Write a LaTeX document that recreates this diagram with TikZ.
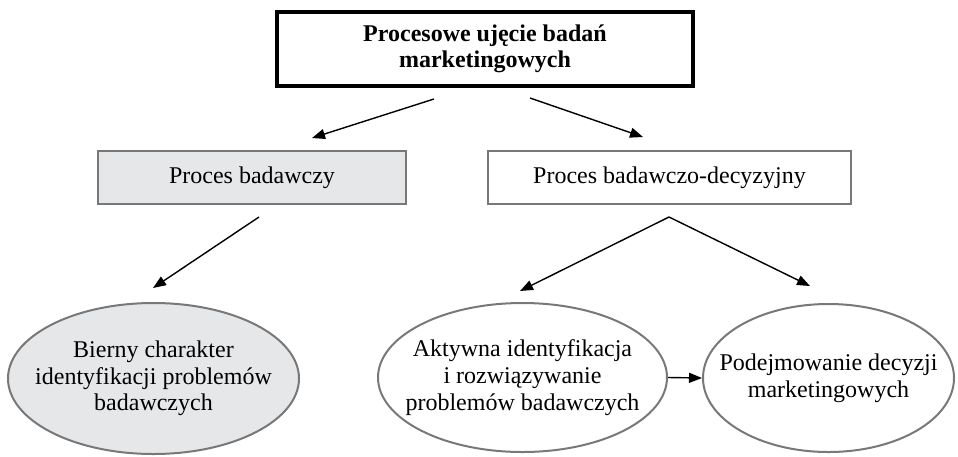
\documentclass[tikz,border=0pt]{standalone}
\usepackage{fontspec}
\setmainfont{Liberation Serif}
\usetikzlibrary{shapes.geometric,arrows.meta,calc}
\definecolor{panelgray}{HTML}{E6E7E8}
\definecolor{edgegray}{HTML}{787878}
\begin{document}
\begin{tikzpicture}[x=1pt,y=-1pt,
  txt/.style={font=\fontsize{24}{26.7}\selectfont, align=center, inner sep=0pt},
  titlebox/.style={draw=black, line width=4pt, fill=white, align=center, inner sep=0pt,
    minimum width=416pt, minimum height=74pt,
    font=\bfseries\fontsize{24}{25.5}\selectfont},
  procbox/.style={txt, rectangle, draw=edgegray, line width=2pt, minimum height=53pt},
  % empty ellipse, so its size is set only by minimum width/height
  ovalbox/.style={ellipse, draw=edgegray, line width=2pt, inner sep=0pt},
  arr/.style={draw=black, line width=1.4pt, -{Triangle[length=13pt,width=10pt]}}
]
\useasboundingbox (0,0) rectangle (958,456);

% top: the overall view
\node[titlebox] (title) at (485,49) {Procesowe ujęcie badań\\marketingowych};

% the two kinds of process
\node[procbox, fill=panelgray, minimum width=308pt] (research) at (252,177.5) {Proces badawczy};
\node[procbox, fill=white, minimum width=363pt] (decision) at (669.5,177.5) {Proces badawczo-decyzyjny};

% their consequences
\node[ovalbox, fill=panelgray, minimum width=291pt, minimum height=151pt] (passive) at (153.5,378.5) {};
\node[txt] (passive-text) at (passive.center) {Bierny charakter\\identyfikacji problemów\\badawczych};
\node[ovalbox, fill=white, minimum width=289pt, minimum height=149pt] (active) at (522.5,377.5) {};
\node[txt] (active-text) at (active.center) {Aktywna identyfikacja\\i rozwiązywanie\\problemów badawczych};
\node[ovalbox, fill=white, minimum width=251pt, minimum height=148pt] (choice) at (828.5,378) {};
\node[txt] (choice-text) at (choice.center) {Podejmowanie decyzji\\marketingowych};

% connectors
\draw[arr] ($(title.south)+(-51,11)$) -- ($(research.north)+(60,-12)$);
\draw[arr] ($(title.south)+(45,10)$) -- ($(decision.north)+(-26.5,-13)$);
\draw[arr] ($(research.south)+(7,12)$) -- ($(passive.north)+(-0.5,-14)$);
\draw[arr] ($(decision.south)+(-0.5,12)$) -- ($(active.north)+(-2.5,-11)$);
\draw[arr] ($(decision.south)+(-0.5,12)$) -- ($(choice.north)+(-18.5,-17)$);
\draw[arr] (active.east) -- (choice.west);
\end{tikzpicture}
\end{document}
